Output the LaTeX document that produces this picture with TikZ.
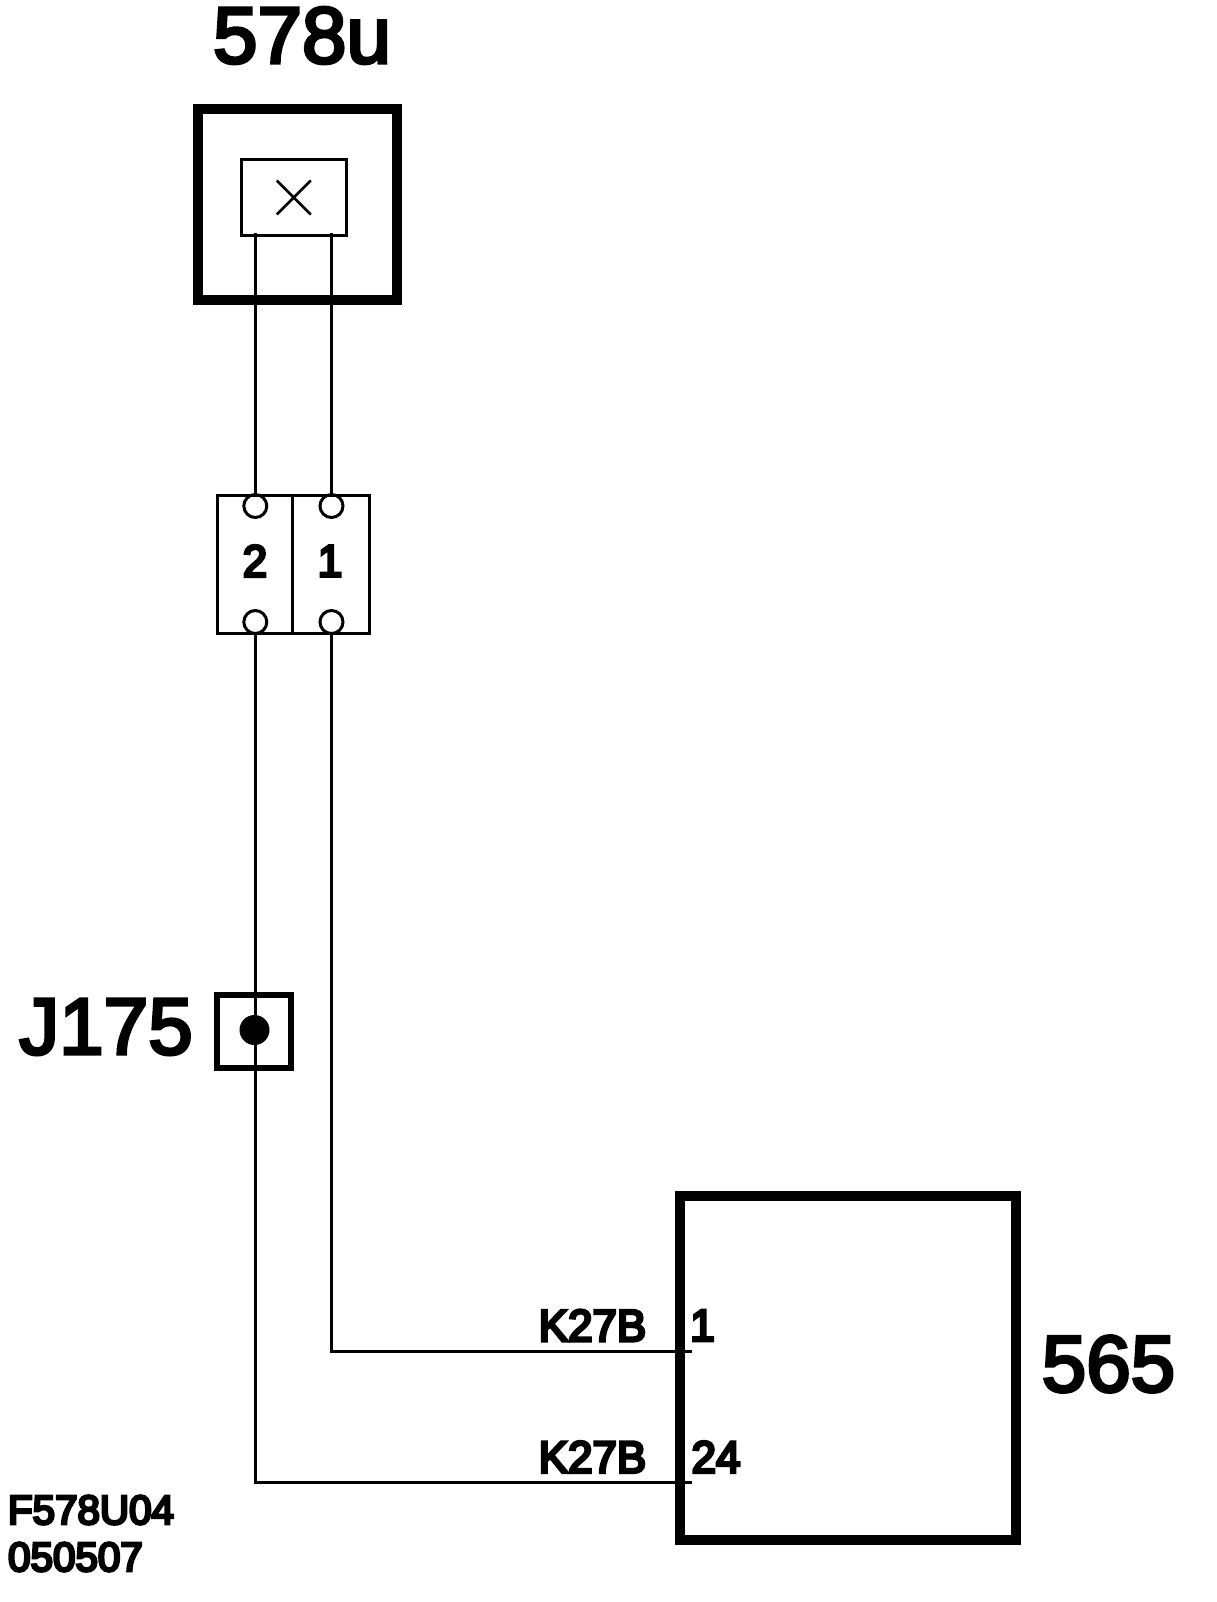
\documentclass[tikz,border=0pt]{standalone}
\usepackage{fontspec}
\setmainfont{Liberation Sans}
\newfontfamily\bigfont[FakeBold=4]{Liberation Sans}
\newfontfamily\tagfont[FakeBold=6.5,FakeStretch=.975]{Liberation Sans}
\newfontfamily\notefont[FakeBold=6.5,FakeStretch=.985]{Liberation Sans}
\tikzset{
 heavybox/.style={draw,line width=10pt,inner sep=0pt,outer sep=0pt},
 thinbox/.style={draw,line width=3pt,inner sep=0pt,outer sep=0pt},
 pin/.style={draw,circle,line width=3pt,minimum size=23pt,inner sep=0pt,outer sep=0pt},
 wire/.style={line width=3pt},
 bigtag/.style={inner sep=0pt,font=\bigfont\fontsize{80}{80}\selectfont},
 wiretag/.style={inner sep=0pt,font=\tagfont\fontsize{45}{45}\selectfont},
 smalltag/.style={inner sep=0pt,font=\notefont\fontsize{41}{41}\selectfont},
}
\begin{document}
\begin{tikzpicture}[x=1pt,y=-1pt]
 \useasboundingbox (0,0) rectangle (1216,1602);
 % boxes
 \node[heavybox,minimum width=199pt,minimum height=190.5pt] (sw) at (297.5,204.75) {};
 \node[thinbox,minimum width=105.5pt,minimum height=76pt] (lamp) at (293.75,197.5) {};
 \node[heavybox,minimum width=336pt,minimum height=344pt] (ecu) at (848,1367.5) {};
 \node[thinbox,minimum width=74.5pt,minimum height=137.5pt] (bk2) at (254.75,564.25) {};
 \node[thinbox,minimum width=77.5pt,minimum height=137.5pt] (bk1) at (330.75,564.25) {};
 \node[draw,line width=6pt,inner sep=0pt,outer sep=0pt,minimum width=74pt,minimum height=73pt] (sp) at (254,1031.5) {};
 \draw[line width=2.5pt] (lamp.center) ++(-17,-17) -- ++(34,34) ++(0,-34) -- ++(-34,34);
 % pins and wire ends
 \foreach \n/\x in {2/255.3,1/331.5}{
  \node[pin] (t\n) at (\x,506) {};
  \node[pin] (b\n) at (\x,622) {};
  \coordinate (s\n) at (\x,233);
  \draw[wire] (s\n) -- (t\n.north);
 }
 \coordinate (e1) at (692,1351.3);
 \coordinate (e2) at (692,1482);
 \draw[wire] (b1.south) |- (e1);
 \draw[wire] (b2.south) |- (e2);
 \node[circle,fill,inner sep=0pt,minimum size=30pt] (dot) at (254.5,1030) {};
 % labels
 \node[bigtag] (lsw) at (302,35.5) {578u};
 \node[bigtag] (lsp) at (106,1027) {J175};
 \node[bigtag] (lecu) at (1108.5,1364) {565};
 \node[wiretag] (n2) at (255,561) {2};
 \node[wiretag] (n1) at (330,561) {1};
 \node[wiretag] (k1) at (592.5,1325.5) {K27B};
 \node[wiretag] (k2) at (592.5,1457) {K27B};
 \node[wiretag] (p1) at (702.5,1325.5) {1};
 \node[wiretag] (p2) at (716,1457) {24};
 \node[smalltag] (f1) at (91,1510) {F578U04};
 \node[smalltag] (f2) at (75.5,1557) {050507};
\end{tikzpicture}
\end{document}
